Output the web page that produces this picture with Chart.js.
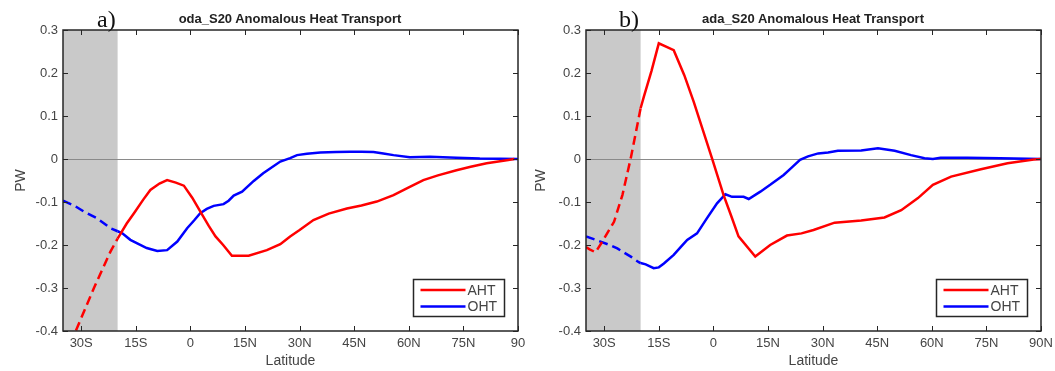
<!DOCTYPE html>
<html>
<head>
<meta charset="utf-8">
<script src="https://cdn.jsdelivr.net/npm/chart.js@4.4.0/dist/chart.umd.min.js"></script>
<style>
  body { margin: 0; background: #fff; width: 1055px; height: 371px; position: relative; overflow: hidden; }
  canvas { position: absolute; top: 0; }
  .tag { position: absolute; top: 6px; font-family: "Liberation Serif", "Times New Roman", serif; font-size: 24px; color: #111; }
  .title { position: absolute; top: 11px; font-family: "Liberation Sans", Arial, sans-serif; font-weight: bold; font-size: 13px; color: #222; transform: translateX(-50%); white-space: nowrap; }
</style>
</head>
<body>
<canvas id="chartA" width="527" height="371" style="left:0"></canvas>
<canvas id="chartB" width="528" height="371" style="left:527px"></canvas>
<div class="tag" style="left:97px">a)</div>
<div class="title" style="left:290px">oda_S20 Anomalous Heat Transport</div>
<div class="tag" style="left:619px">b)</div>
<div class="title" style="left:813px">ada_S20 Anomalous Heat Transport</div>
<script>
const latTicks = [-30, -15, 0, 15, 30, 45, 60, 75, 90];
const latLabelsA = ["30S", "15S", "0", "15N", "30N", "45N", "60N", "75N", "90"];
const latLabelsB = ["30S", "15S", "0", "15N", "30N", "45N", "60N", "75N", "90N"];
const pwTicks = [-0.4, -0.3, -0.2, -0.1, 0, 0.1, 0.2, 0.3];
const pwLabels = ["-0.4", "-0.3", "-0.2", "-0.1", "0", "0.1", "0.2", "0.3"];

// southern edge of the forcing region; lines are dashed south of it
const shadeEdge = -20;

// oda_S20
const ahtLatA = [-32.5, -31.5, -26.5, -22, -20, -17.5, -15.5, -13, -11, -8.5, -6.4, -4, -1.8, 0.5, 2.7, 5, 6.9, 9, 11.4, 16, 21, 24.7, 27.4, 30, 33.8, 38, 43, 47, 51.2, 55.8, 60, 64, 68, 73.1, 77, 81.4, 86.9, 89];
const ahtA = [-0.43, -0.40, -0.30, -0.216, -0.185, -0.15, -0.126, -0.095, -0.072, -0.057, -0.049, -0.055, -0.062, -0.09, -0.122, -0.155, -0.18, -0.2, -0.225, -0.225, -0.212, -0.198, -0.18, -0.165, -0.142, -0.127, -0.115, -0.108, -0.099, -0.084, -0.066, -0.049, -0.038, -0.026, -0.018, -0.010, -0.003, 0];
const ohtLatA = [-35, -32, -29.3, -25.6, -21.9, -20, -18.7, -16.5, -14.6, -12, -9.1, -6.4, -3.6, -0.9, 1, 2.7, 4.5, 6.4, 9.1, 10.5, 11.9, 14.2, 17.4, 20, 21.9, 24.7, 27.4, 29.3, 32, 35.7, 40, 43.9, 47, 50.3, 53, 55.8, 60.3, 65.8, 73.1, 79.5, 85, 90];
const ohtA = [-0.097, -0.108, -0.122, -0.138, -0.161, -0.168, -0.173, -0.188, -0.196, -0.207, -0.214, -0.212, -0.192, -0.161, -0.143, -0.126, -0.116, -0.109, -0.105, -0.097, -0.085, -0.076, -0.051, -0.033, -0.022, -0.006, 0.002, 0.009, 0.012, 0.015, 0.016, 0.017, 0.017, 0.016, 0.013, 0.009, 0.004, 0.005, 0.003, 0.001, 0.0005, 0];

// ada_S20
const ahtLatB = [-35, -34, -32.4, -30.5, -27.3, -25, -22.7, -20.9, -20, -19.1, -17, -15, -10.9, -8, -5.4, -3, -0.4, 2.8, 5, 6.9, 11.5, 15.6, 20.2, 24.2, 27.5, 33.3, 40.6, 47, 51.6, 56.2, 60.3, 65.3, 73.5, 80.8, 88, 90];
const ahtB = [-0.205, -0.21, -0.217, -0.192, -0.146, -0.084, 0.002, 0.079, 0.118, 0.145, 0.205, 0.269, 0.253, 0.195, 0.133, 0.07, 0.002, -0.084, -0.135, -0.18, -0.227, -0.2, -0.178, -0.173, -0.165, -0.148, -0.143, -0.136, -0.119, -0.091, -0.06, -0.041, -0.024, -0.01, -0.001, 0];
const ohtLatB = [-35, -31, -28.5, -26.4, -22.7, -20.5, -20, -18.6, -16.4, -15, -13.6, -10.9, -9, -7.2, -4.5, -1.8, 1, 3.3, 5.1, 8.3, 9.7, 12.9, 15.6, 19.3, 21.5, 23.8, 26, 28.8, 31.5, 34.2, 40.6, 45.2, 49.8, 54.3, 58, 60.3, 62.4, 69.7, 78.8, 90];
const ohtB = [-0.18, -0.192, -0.2, -0.208, -0.227, -0.24, -0.242, -0.245, -0.254, -0.252, -0.243, -0.223, -0.205, -0.188, -0.173, -0.138, -0.103, -0.082, -0.088, -0.088, -0.093, -0.076, -0.06, -0.037, -0.02, -0.002, 0.006, 0.013, 0.015, 0.019, 0.02, 0.025, 0.019, 0.009, 0.002, 0, 0.003, 0.003, 0.002, 0];

const sans = "'Liberation Sans', Arial, Helvetica, sans-serif";
const inkColor = "#262626";
const textColor = "#444";

function points(lats, vals) {
    return lats.map((x, i) => ({ x: x, y: vals[i] }));
}

// grey band over the forcing region and the zero line
const shadePlugin = {
    id: "shade",
    beforeDatasetsDraw(chart) {
        const { ctx, chartArea: a, scales } = chart;
        const xEdge = scales.x.getPixelForValue(shadeEdge);
        const y0 = Math.round(scales.y.getPixelForValue(0)) + 0.5;
        ctx.save();
        ctx.fillStyle = "#c9c9c9";
        ctx.fillRect(a.left, a.top, xEdge - a.left, a.bottom - a.top);
        ctx.strokeStyle = "#8a8a8a";
        ctx.lineWidth = 1;
        ctx.beginPath();
        ctx.moveTo(a.left, y0);
        ctx.lineTo(a.right, y0);
        ctx.stroke();
        ctx.restore();
    }
};

// axes box with inward tick marks on all four sides
const framePlugin = {
    id: "frame",
    afterDatasetsDraw(chart) {
        const { ctx, chartArea: a, scales } = chart;
        ctx.save();
        ctx.strokeStyle = inkColor;
        ctx.lineWidth = 1;
        ctx.beginPath();
        latTicks.forEach(v => {
            const x = Math.round(scales.x.getPixelForValue(v)) + 0.5;
            ctx.moveTo(x, a.bottom);
            ctx.lineTo(x, a.bottom - 5);
            ctx.moveTo(x, a.top);
            ctx.lineTo(x, a.top + 5);
        });
        pwTicks.forEach(v => {
            const y = Math.round(scales.y.getPixelForValue(v)) + 0.5;
            ctx.moveTo(a.left, y);
            ctx.lineTo(a.left + 5, y);
            ctx.moveTo(a.right, y);
            ctx.lineTo(a.right - 5, y);
        });
        ctx.stroke();
        ctx.lineWidth = 1.5;
        ctx.strokeRect(a.left, a.top, a.right - a.left, a.bottom - a.top);
        ctx.restore();
    }
};

// boxed legend in the lower right corner
const legendPlugin = {
    id: "boxLegend",
    afterDraw(chart) {
        const { ctx, chartArea: a } = chart;
        const w = 91, h = 37;
        const x0 = Math.round(a.right - 14 - w) + 0.5;
        const y0 = Math.round(a.bottom - 15 - h) + 0.5;
        ctx.save();
        ctx.fillStyle = "#fff";
        ctx.fillRect(x0, y0, w, h);
        ctx.strokeStyle = inkColor;
        ctx.lineWidth = 1.5;
        ctx.strokeRect(x0, y0, w, h);
        ctx.font = "14px " + sans;
        ctx.textBaseline = "middle";
        chart.data.datasets.forEach((ds, i) => {
            const y = y0 + 10.5 + i * 16.5;
            ctx.strokeStyle = ds.borderColor;
            ctx.lineWidth = 2.5;
            ctx.beginPath();
            ctx.moveTo(x0 + 7, y);
            ctx.lineTo(x0 + 52, y);
            ctx.stroke();
            ctx.fillStyle = textColor;
            ctx.fillText(ds.label, x0 + 54, y + 1);
        });
        ctx.restore();
    }
};

function makeChart(id, ahtLat, aht, ohtLat, oht, latLabels, axisWidth, padRight, pwPad) {
    const dashed = ctx => ctx.p1.parsed.x <= shadeEdge ? [9, 5] : undefined;
    return new Chart(document.getElementById(id), {
        type: "line",
        data: {
            datasets: [{
                label: "AHT",
                data: points(ahtLat, aht),
                borderColor: "#ff0000",
                borderWidth: 2.5,
                pointRadius: 0,
                segment: { borderDash: dashed }
            }, {
                label: "OHT",
                data: points(ohtLat, oht),
                borderColor: "#0000ff",
                borderWidth: 2.5,
                pointRadius: 0,
                segment: { borderDash: dashed }
            }]
        },
        options: {
            responsive: false,
            animation: false,
            layout: { padding: { top: 30, right: padRight, left: 0, bottom: 0 } },
            plugins: { legend: { display: false }, tooltip: { enabled: false } },
            scales: {
                x: {
                    type: "linear",
                    min: -35,
                    max: 90,
                    afterBuildTicks: s => { s.ticks = latTicks.map(v => ({ value: v })); },
                    afterFit: s => {
                        s.height = 40;
                        // let the last label hang past the plot edge
                        s.paddingLeft = 0;
                        s.paddingRight = 0;
                    },
                    grid: { display: false, drawTicks: false },
                    border: { display: false },
                    ticks: {
                        padding: 5,
                        color: textColor,
                        font: { family: sans, size: 13 },
                        maxRotation: 0,
                        autoSkip: false,
                        callback: (v, i) => latLabels[i]
                    },
                    title: {
                        display: true,
                        text: "Latitude",
                        color: textColor,
                        font: { family: sans, size: 14 },
                        padding: { top: 1, bottom: 1 }
                    }
                },
                y: {
                    type: "linear",
                    min: -0.4,
                    max: 0.3,
                    afterBuildTicks: s => { s.ticks = pwTicks.map(v => ({ value: v })); },
                    afterFit: s => { s.width = axisWidth; },
                    grid: { display: false, drawTicks: false },
                    border: { display: false },
                    ticks: {
                        padding: 5,
                        color: textColor,
                        font: { family: sans, size: 13 },
                        autoSkip: false,
                        callback: (v, i) => pwLabels[i]
                    },
                    title: {
                        display: true,
                        text: "PW",
                        color: textColor,
                        font: { family: sans, size: 14 },
                        padding: { top: pwPad, bottom: pwPad }
                    }
                }
            }
        },
        plugins: [shadePlugin, framePlugin, legendPlugin]
    });
}

makeChart("chartA", ahtLatA, ahtA, ohtLatA, ohtA, latLabelsA, 63, 9, 13);
makeChart("chartB", ahtLatB, ahtB, ohtLatB, ohtB, latLabelsB, 59, 14, 6);
</script>
</body>
</html>
